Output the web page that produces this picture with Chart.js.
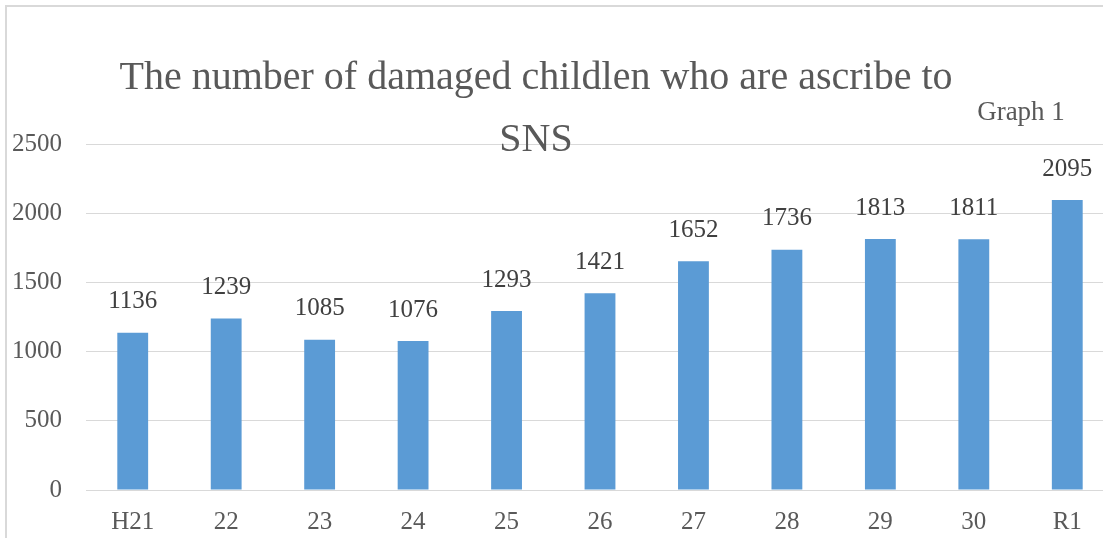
<!DOCTYPE html>
<html>
<head>
<meta charset="utf-8">
<script src="https://cdn.jsdelivr.net/npm/chart.js@4"></script>
<style>
  html, body { margin: 0; padding: 0; background: #fff; overflow: hidden; }
  #frame {
    position: absolute; left: 5px; top: 5px; width: 1200px; height: 600px;
    border-top: 2px solid #d9d9d9; border-left: 2px solid #d9d9d9;
  }
  #wrap { position: absolute; left: 0; top: 0; width: 1130px; height: 538px; }
</style>
</head>
<body>
<div id="frame"></div>
<div id="wrap"><canvas id="chartSNS"></canvas></div>
<script>
// kategori tahun (Heisei 21 .. Reiwa 1)
const tahun = ["H21", "22", "23", "24", "25", "26", "27", "28", "29", "30", "R1"];
// jumlah anak korban
const jumlahKorban = [1136, 1239, 1085, 1076, 1293, 1421, 1652, 1736, 1813, 1811, 2095];
const judul = ["The number of damaged childlen who are ascribe to", "SNS"];
const catatan = "Graph 1";

const FONT = "'Liberation Serif', 'Times New Roman', serif";
const ABU = "#595959";

// Tulis judul + "Graph 1"
const judulPlugin = {
    id: "judulManual",
    afterDraw(chart) {
        const ctx = chart.ctx;
        ctx.save();
        ctx.fillStyle = ABU;
        ctx.textAlign = "center";
        ctx.textBaseline = "middle";
        ctx.font = "40px " + FONT;
        ctx.fillText(judul[0], 536, 78);
        ctx.fillText(judul[1], 536, 140);
        ctx.font = "27px " + FONT;
        ctx.fillText(catatan, 1021, 113);
        ctx.restore();
    }
};

// Label angka di atas bar
const labelPlugin = {
    id: "labelBar",
    afterDatasetsDraw(chart) {
        const ctx = chart.ctx;
        const meta = chart.getDatasetMeta(0);
        ctx.save();
        ctx.fillStyle = "#404040";
        ctx.font = "25px " + FONT;
        ctx.textAlign = "center";
        ctx.textBaseline = "middle";
        meta.data.forEach((bar, i) => {
            ctx.fillText(String(jumlahKorban[i]), bar.x, bar.y - 31);
        });
        ctx.restore();
    }
};

new Chart(document.getElementById("chartSNS"), {
    type: "bar",
    data: {
        labels: tahun,
        datasets: [{
            data: jumlahKorban,
            backgroundColor: "#5b9bd5",
            barPercentage: 0.33,
            categoryPercentage: 1
        }]
    },
    options: {
        responsive: true,
        maintainAspectRatio: false,
        animation: false,
        layout: { padding: { top: 144, right: 16, left: 0, bottom: 0 } },
        plugins: {
            legend: { display: false },
            title: { display: false },
            tooltip: { enabled: false }
        },
        scales: {
            x: {
                grid: { display: false, drawTicks: false },
                border: { display: true, color: "#d9d9d9", width: 1 },
                ticks: { color: ABU, font: { family: FONT, size: 25 }, padding: 17, maxRotation: 0 },
                afterFit(scale) { scale.height = 48; }
            },
            y: {
                min: 0,
                max: 2500,
                grid: { color: "#d9d9d9", lineWidth: 1, drawTicks: false },
                border: { display: false },
                ticks: {
                    stepSize: 500,
                    color: ABU,
                    font: { family: FONT, size: 25 },
                    padding: 24,
                    callback: (v) => String(v)
                },
                afterFit(scale) { scale.width = 86; }
            }
        }
    },
    plugins: [judulPlugin, labelPlugin]
});
</script>
</body>
</html>
